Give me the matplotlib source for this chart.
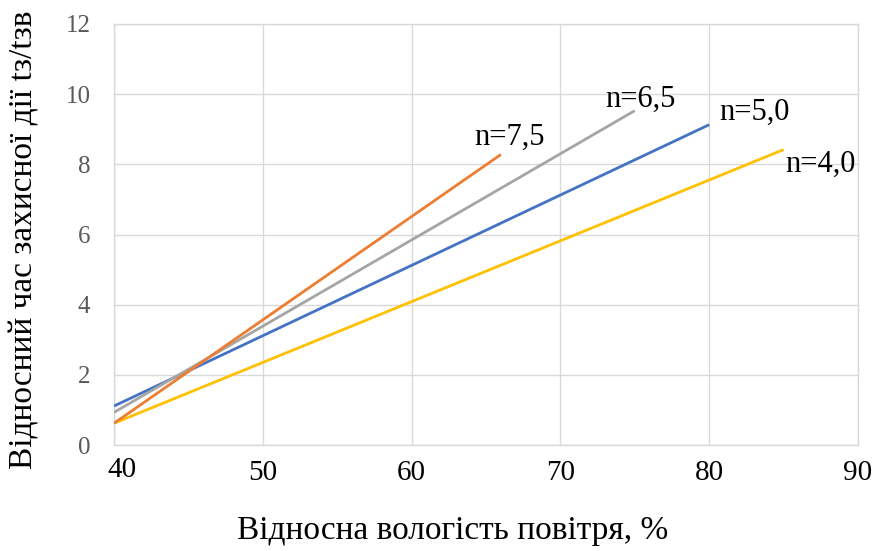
import matplotlib
matplotlib.use("Agg")
import matplotlib.pyplot as plt
from matplotlib.transforms import ScaledTranslation

plt.rcParams['font.family'] = ['Liberation Serif', 'DejaVu Serif']

# data
series_names = ["n=4,0", "n=5,0", "n=6,5", "n=7,5"]
x_start = [40, 40, 40, 40]
x_end = [85, 80, 75, 66]
y_start = [0.62, 1.11, 0.93, 0.62]
y_end = [8.42, 9.13, 9.53, 8.28]
colors = ["#FFC000", "#4472C4", "#A5A5A5", "#ED7D31"]
label_pos = [(87.45, 7.78), (83.04, 9.26), (75.35, 9.63), (66.58, 8.55)]
x_ticks = [40, 50, 60, 70, 80, 90]
y_ticks = [0, 2, 4, 6, 8, 10, 12]

fig = plt.figure(figsize=(8.77, 5.51), dpi=100)
ax = fig.add_axes([114/877, 1-445/551, (858-114)/877, (445-24)/551])

for xs, xe, ys, ye, c in zip(x_start, x_end, y_start, y_end, colors):
    ax.plot([xs, xe], [ys, ye], color=c, lw=2.0, solid_capstyle='butt', zorder=3)

for name, (tx, ty) in zip(series_names, label_pos):
    ax.text(tx, ty, name, fontsize=22, ha='center', va='baseline', color='black', zorder=4)

ax.set_xlim(40, 90)
ax.set_ylim(0, 12)
ax.set_xticks(x_ticks)
ax.set_yticks(y_ticks)
ax.grid(True, color='#D9D9D9', lw=1.0)
ax.set_axisbelow(True)
for s in ax.spines.values():
    s.set_color('#D9D9D9')
    s.set_linewidth(1.0)
ax.tick_params(axis='both', length=0)
ax.tick_params(axis='x', labelsize=21, pad=11, labelcolor='black')
ax.tick_params(axis='y', labelsize=18, pad=17, labelcolor='#595959')

ax.set_xlabel("Відносна вологість повітря, %", fontsize=24)
ax.set_ylabel("Відносний час захисної дії tз/tзв", fontsize=24)
ax.xaxis.set_label_coords((453-114)/744, (445-516)/421)
ax.yaxis.set_label_coords((40-114)/744, (445-240)/421)

fig.canvas.draw()
lab0 = ax.get_xticklabels()[0]
lab0.set_transform(lab0.get_transform() + ScaledTranslation(8/100, 3/100, fig.dpi_scale_trans))

fig.savefig("out.png", dpi=100)
